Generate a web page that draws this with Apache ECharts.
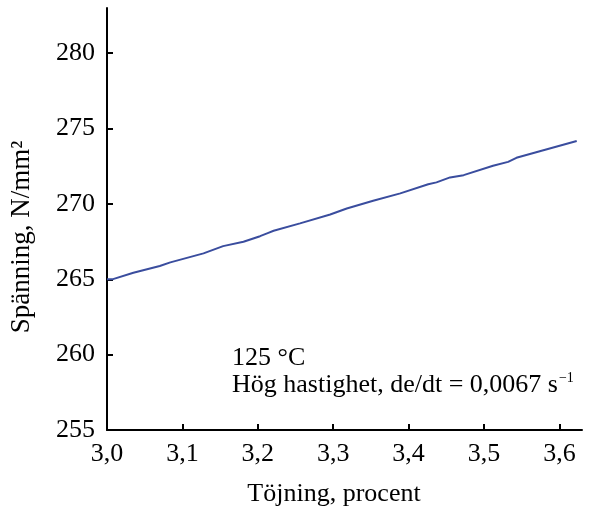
<!DOCTYPE html>
<html>
<head>
<meta charset="utf-8">
<script src="https://cdn.jsdelivr.net/npm/echarts@6/dist/echarts.min.js"></script>
<style>
  html, body { margin: 0; padding: 0; background: #fff; }
  #chart { width: 593px; height: 510px; }
</style>
</head>
<body>
<div id="chart"></div>
<script>
// Strain (percent) and stress (N/mm²) along the tensile curve
const strain = [3.000, 3.008, 3.035, 3.070, 3.084, 3.128, 3.154, 3.181, 3.203, 3.214,
                3.221, 3.256, 3.296, 3.318, 3.353, 3.389, 3.426, 3.437, 3.455, 3.473,
                3.512, 3.532, 3.543, 3.574, 3.623];
const stress = [265.00, 265.01, 265.43, 265.88, 266.12, 266.72, 267.20, 267.49, 267.86, 268.08,
                268.22, 268.71, 269.30, 269.70, 270.21, 270.70, 271.31, 271.43, 271.76, 271.91,
                272.53, 272.79, 273.06, 273.50, 274.18];

const xTicks = [3.0, 3.1, 3.2, 3.3, 3.4, 3.5, 3.6];
const yTicks = [255, 260, 265, 270, 275, 280];

const xTitle = 'Töjning, procent';
const yTitle = 'Spänning, N/mm²';
const noteTemp = '125 °C';
const noteRate = 'Hög hastighet, de/dt = 0,0067 s';
const noteRateExp = '−1';

const FONT = '"Liberation Serif", "Times New Roman", serif';
const INK = '#000';

const chart = echarts.init(document.getElementById('chart'), null, { renderer: 'canvas' });

chart.setOption({
  animation: false,
  backgroundColor: '#fff',
  grid: { left: 107, right: 11, top: 8, bottom: 80, containLabel: false },
  xAxis: {
    type: 'value',
    min: 3.0,
    max: 3.63,
    axisLine: { onZero: false, lineStyle: { color: INK, width: 2 } },
    axisTick: { inside: true, length: 6, lineStyle: { color: INK, width: 2 }, customValues: xTicks },
    axisLabel: {
      customValues: xTicks,
      margin: 11,
      color: INK,
      fontFamily: FONT,
      fontSize: 26,
      formatter: v => v.toFixed(1).replace('.', ',')
    },
    splitLine: { show: false }
  },
  yAxis: {
    type: 'value',
    min: 255,
    max: 283,
    axisLine: { onZero: false, lineStyle: { color: INK, width: 2 } },
    axisTick: { inside: true, length: 6, lineStyle: { color: INK, width: 2 }, customValues: yTicks },
    axisLabel: {
      customValues: yTicks,
      margin: 12,
      color: INK,
      fontFamily: FONT,
      fontSize: 26
    },
    splitLine: { show: false }
  },
  graphic: [
    {
      type: 'text', x: 334, y: 494,
      style: { text: xTitle, font: '26px ' + FONT, fill: INK, textAlign: 'center', textVerticalAlign: 'middle' }
    },
    {
      type: 'text', x: 22, y: 237, rotation: Math.PI / 2,
      style: { text: yTitle, font: '27px ' + FONT, fill: INK, textAlign: 'center', textVerticalAlign: 'middle' }
    },
    {
      type: 'text', x: 232, y: 358,
      style: { text: noteTemp, font: '26px ' + FONT, fill: INK, textAlign: 'left', textVerticalAlign: 'middle' }
    },
    {
      type: 'text', x: 232, y: 385,
      style: {
        text: '{b|' + noteRate + '}{sup|' + noteRateExp + '}',
        fill: INK, textAlign: 'left', textVerticalAlign: 'middle',
        rich: {
          b: { fontFamily: FONT, fontSize: 26, lineHeight: 27, fill: INK },
          sup: { fontFamily: FONT, fontSize: 14, lineHeight: 27, verticalAlign: 'top', fill: INK, padding: [0, 0, 0, 1] }
        }
      }
    }
  ],
  series: [{
    type: 'line',
    data: strain.map((x, i) => [x, stress[i]]),
    showSymbol: false,
    smooth: false,
    lineStyle: { color: '#3a4d9e', width: 2 },
    itemStyle: { color: '#3a4d9e' }
  }]
});
</script>
</body>
</html>
